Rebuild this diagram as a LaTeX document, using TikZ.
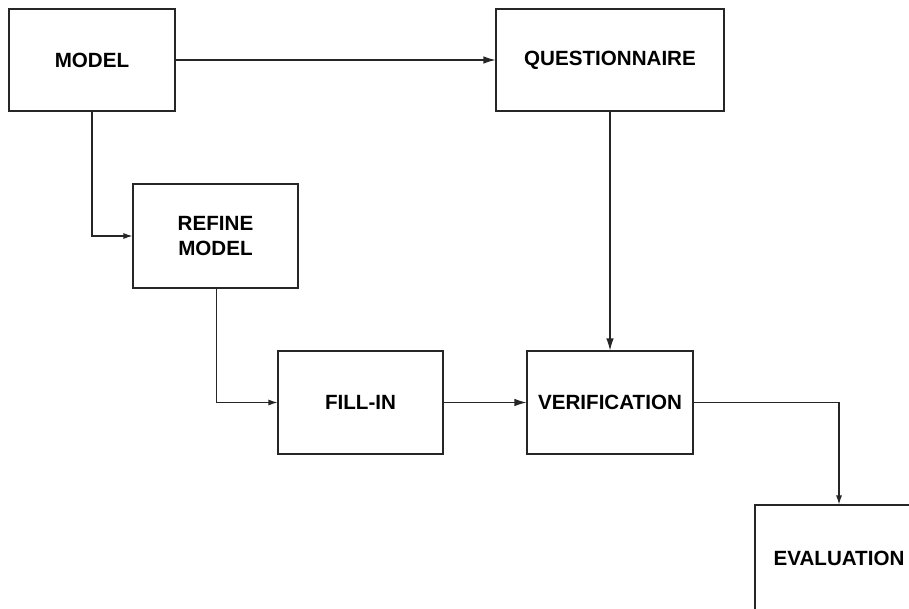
\documentclass[tikz,border=0pt]{standalone}
\usepackage{fontspec}
\setmainfont{Liberation Sans}
\usetikzlibrary{arrows.meta}
\begin{document}
\begin{tikzpicture}[x=1pt,y=-1pt,
  stage/.style={draw=black!85, line width=1.1pt, fill=white, inner sep=0pt,
    font=\fontsize{20.6}{25}\selectfont\bfseries, align=center},
  link/.style={draw=black!85, line width=1.1pt, -{Latex[length=12pt,width=7.5pt]}},
  smalllink/.style={link, -{Latex[length=9pt,width=6pt]}}]
\clip (0,0) rectangle (909,608);
\fill[white] (0,0) rectangle (909,608);
\node[stage, minimum width=166pt, minimum height=102pt] (model) at (92,60) {MODEL};
\node[stage, minimum width=228pt, minimum height=102pt] (quest) at (610,60) {QUESTIONNAIRE};
\node[stage, minimum width=165pt, minimum height=104pt] (refine) at (215.5,236) {REFINE\\MODEL};
\node[stage, minimum width=165pt, minimum height=103pt] (fill) at (360.5,402.5) {FILL-IN};
\node[stage, minimum width=166pt, minimum height=103pt] (verif) at (610,402.5) {VERIFICATION};
\node[stage, minimum width=168pt, minimum height=106pt] (eval) at (839,558) {EVALUATION};
\draw[link] (model) -- (quest);
\draw[smalllink] (model.south) |- (refine.west);
\draw[smalllink] ([xshift=1pt]refine.south) |- (fill.west);
\draw[link] (fill) -- (verif);
\draw[link] (quest) -- (verif);
\draw[smalllink] (verif.east) -| (eval.north);
\end{tikzpicture}
\end{document}
